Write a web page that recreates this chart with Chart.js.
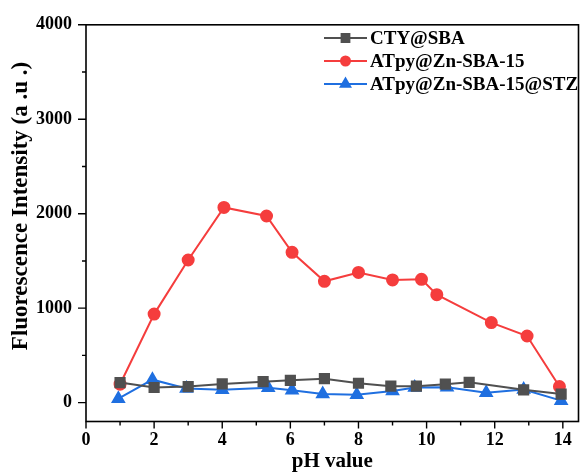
<!DOCTYPE html>
<html>
<head>
<meta charset="utf-8">
<script src="https://cdn.jsdelivr.net/npm/chart.js@4/dist/chart.umd.min.js"></script>
<style>
  html, body { margin: 0; padding: 0; background: #fff; }
  #wrap { width: 587px; height: 472px; }
</style>
</head>
<body>
<div id="wrap"><canvas id="phChart"></canvas></div>
<script>
// series (x = pH, y = intensity)
const ctyPH = [1, 2, 3, 4, 5.2, 6, 7, 8, 8.95, 9.7, 10.55, 11.25, 12.85, 13.95];
const ctyVals = [212, 160, 170, 198, 222, 236, 253, 205, 174, 174, 195, 215, 135, 90];

const znPH = [1, 2, 3, 4.05, 5.3, 6.05, 7, 8, 9, 9.85, 10.3, 11.9, 12.95, 13.9];
const znVals = [195, 937, 1510, 2066, 1976, 1591, 1284, 1378, 1299, 1305, 1143, 847, 705, 170];

const stzPH = [0.95, 1.95, 2.95, 4, 5.35, 6.05, 6.95, 7.95, 9, 9.65, 10.6, 11.75, 12.85, 13.95];
const stzVals = [42, 243, 149, 135, 156, 132, 90, 83, 122, 160, 163, 104, 139, 21];

const seriesNames = ['CTY@SBA', 'ATpy@Zn-SBA-15', 'ATpy@Zn-SBA-15@STZ'];
const xMajor = [0, 2, 4, 6, 8, 10, 12, 14];
const yMajor = [0, 1000, 2000, 3000, 4000];
const yTitle = 'Fluorescence Intensity (a .u .)';

function toPoints(xs, ys) {
  return xs.map((x, i) => ({ x: x, y: ys[i] }));
}

const serif = "'Liberation Serif', 'Times New Roman', serif";

// frame + outward tick marks (major long, minor short)
const frameTicks = {
  id: 'frameTicks',
  afterDraw(chart) {
    const ctx = chart.ctx;
    const a = chart.chartArea;
    const xs = chart.scales.x, ys = chart.scales.y;
    ctx.save();
    ctx.strokeStyle = '#000';
    ctx.lineWidth = 1.6;
    ctx.strokeRect(a.left, a.top, a.right - a.left, a.bottom - a.top);
    ctx.lineWidth = 1.4;
    ctx.beginPath();
    for (let v = 0; v <= 14; v++) {
      const px = xs.getPixelForValue(v);
      const len = v % 2 === 0 ? 7 : 4;
      ctx.moveTo(px, a.bottom);
      ctx.lineTo(px, a.bottom + len);
    }
    for (let v = 0; v <= 4000; v += 500) {
      const py = ys.getPixelForValue(v);
      const len = v % 1000 === 0 ? 8 : 4;
      ctx.moveTo(a.left, py);
      ctx.lineTo(a.left - len, py);
    }
    ctx.stroke();

    // y title sits a bit above the axis centre in the original
    ctx.translate(21, 206);
    ctx.rotate(-Math.PI / 2);
    ctx.fillStyle = '#000';
    ctx.font = 'bold 23px ' + serif;
    ctx.textAlign = 'center';
    ctx.textBaseline = 'middle';
    ctx.fillText(yTitle, 0, 0);
    ctx.restore();
  }
};

// legend with line + marker, like the original
const lineLegend = {
  id: 'lineLegend',
  afterDraw(chart) {
    const ctx = chart.ctx;
    const rows = [38, 61, 84];
    ctx.save();
    chart.data.datasets.forEach((ds, i) => {
      const y = rows[i];
      ctx.strokeStyle = ds.borderColor;
      ctx.lineWidth = 2;
      ctx.beginPath();
      ctx.moveTo(324, y);
      ctx.lineTo(367, y);
      ctx.stroke();
      Chart.helpers.drawPoint(ctx, {
        pointStyle: ds.pointStyle,
        radius: ds.pointStyle === 'circle' ? 4.5 : 5.5,
        borderWidth: 1
      }, 345.5, y);
      ctx.fillStyle = ds.backgroundColor;
      ctx.fill();
      ctx.fillStyle = '#000';
      ctx.font = 'bold 19px ' + serif;
      ctx.textBaseline = 'middle';
      ctx.textAlign = 'left';
      ctx.fillText(ds.label, 370, y + 1);
    });
    ctx.restore();
  }
};

const phCtx = document.getElementById('phChart').getContext('2d');
new Chart(phCtx, {
  type: 'line',
  data: {
    datasets: [
      {
        label: seriesNames[0],
        data: toPoints(ctyPH, ctyVals),
        borderColor: '#505050',
        backgroundColor: '#505050',
        pointStyle: 'rect',
        pointRadius: 6.5,
        borderWidth: 2,
        tension: 0,
      },
      {
        label: seriesNames[1],
        data: toPoints(znPH, znVals),
        borderColor: '#f53d3d',
        backgroundColor: '#f53d3d',
        pointStyle: 'circle',
        pointRadius: 5.5,
        borderWidth: 2,
        tension: 0,
      },
      {
        label: seriesNames[2],
        data: toPoints(stzPH, stzVals),
        borderColor: '#1f6fe0',
        backgroundColor: '#1f6fe0',
        pointStyle: 'triangle',
        pointRadius: 6.5,
        borderWidth: 2,
        tension: 0,
      },
    ],
  },
  options: {
    responsive: true,
    maintainAspectRatio: false,
    animation: false,
    layout: { padding: { top: 19, right: 3, left: 0, bottom: 0 } },
    plugins: {
      legend: { display: false },
      tooltip: { enabled: false },
    },
    elements: { point: { borderWidth: 0 } },
    scales: {
      x: {
        type: 'linear',
        min: 0,
        max: 14.46,
        grid: { display: false, drawTicks: false },
        border: { display: false },
        afterBuildTicks(scale) {
          scale.ticks = xMajor.map(v => ({ value: v }));
        },
        afterFit(scale) { scale.height = 50.5; },
        ticks: {
          padding: 8,
          color: '#000',
          font: { family: serif, size: 18, weight: 'bold' },
          maxRotation: 0,
          callback: v => String(v),
        },
        title: {
          display: true,
          text: 'pH value',
          color: '#000',
          font: { family: serif, size: 21, weight: 'bold' },
          padding: { top: 0, bottom: -2 },
        },
      },
      y: {
        min: -200,
        max: 4000,
        grid: { display: false, drawTicks: false },
        border: { display: false },
        afterBuildTicks(scale) {
          scale.ticks = yMajor.map(v => ({ value: v }));
        },
        afterFit(scale) { scale.width = 86; },
        ticks: {
          padding: 14,
          color: '#000',
          font: { family: serif, size: 18, weight: 'bold' },
          callback: v => String(v),
        },
        title: { display: false },
      },
    },
  },
  plugins: [frameTicks, lineLegend],
});
</script>
</body>
</html>
